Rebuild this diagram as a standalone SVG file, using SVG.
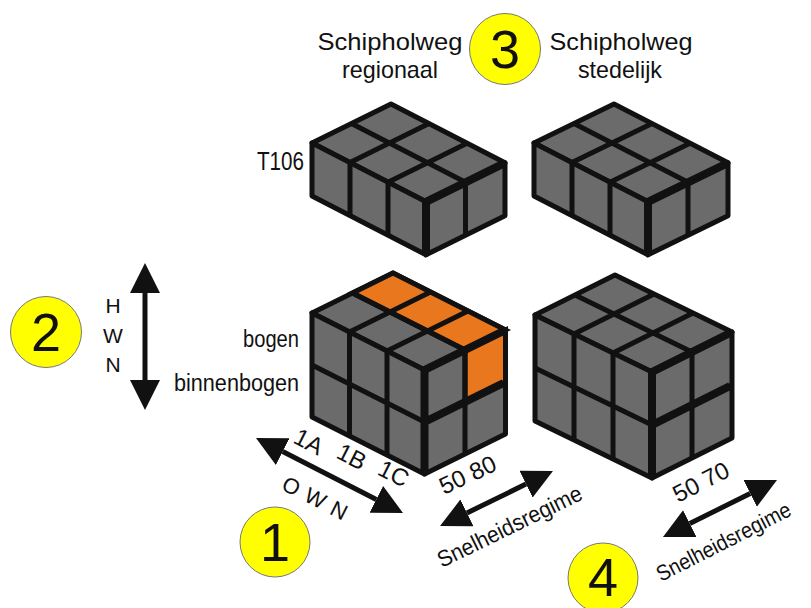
<svg xmlns="http://www.w3.org/2000/svg" width="811" height="608" viewBox="0 0 811 608">
<defs>
<style>
text{font-family:"Liberation Sans",Arial,Helvetica,sans-serif;fill:#111}
.f{fill:#6b6b6b;stroke:#111;stroke-width:5;stroke-linejoin:round;vector-effect:non-scaling-stroke}
.o{fill:#e8771e;stroke:#111;stroke-width:5;vector-effect:non-scaling-stroke}
.ln{fill:none;stroke:#111;stroke-width:5;vector-effect:non-scaling-stroke}
.tk{fill:none;stroke:#111;stroke-width:8;stroke-linecap:butt}
.badge circle{fill:#ffff00;stroke:#777;stroke-width:1}
.badge text{font-size:54px;text-anchor:middle}
.lbl{font-size:24px;text-anchor:middle}
.arr{stroke:#111;stroke-width:5;fill:none;marker-start:url(#ah);marker-end:url(#ah)}
</style>
<marker id="ah" viewBox="0 0 30 30" refX="0" refY="15" markerWidth="30" markerHeight="30" markerUnits="userSpaceOnUse" orient="auto-start-reverse">
<path d="M0,0 L30,15 L0,30 z" fill="#111"/>
</marker>
</defs>
<rect width="811" height="608" fill="#fff"/>

<!-- Top-left block -->
<g id="block-top-left">
<g transform="matrix(38 19.6 39.5 -19.5 312 143)"><rect class="f" width="3" height="2"/><path class="ln" d="M1 0V2M2 0V2M0 1H3"/></g>
<g transform="matrix(38 19.6 0 53 312 143)"><rect class="f" width="3" height="1"/><path class="ln" d="M1 0V1M2 0V1"/></g>
<g transform="matrix(39.5 -19.5 0 53 426 201.8)"><rect class="f" width="2" height="1"/><path class="ln" d="M1 0V1"/></g>
<path class="tk" d="M426 201.8V254.8M426 201.8L503 163.8"/>
</g>

<!-- Top-right block -->
<g id="block-top-right">
<g transform="matrix(38 19.6 40 -19.5 534 143)"><rect class="f" width="3" height="2"/><path class="ln" d="M1 0V2M2 0V2M0 1H3"/></g>
<g transform="matrix(38 19.6 0 53 534 143)"><rect class="f" width="3" height="1"/><path class="ln" d="M1 0V1M2 0V1"/></g>
<g transform="matrix(40 -19.5 0 53 648 201.8)"><rect class="f" width="2" height="1"/><path class="ln" d="M1 0V1"/></g>
<path class="tk" d="M648 201.8V254.8M648 201.8L726 163.8"/>
</g>

<!-- Bottom-left block -->
<g id="block-bottom-left">
<g transform="matrix(37.5 19 40.5 -20 312 313)"><rect class="f" width="3" height="2"/><rect class="o" x="0" y="1" width="3" height="1"/><path class="ln" d="M1 0V2M2 0V2M0 1H3"/></g>
<g transform="matrix(37.5 19 0 52 312 313)"><rect class="f" width="3" height="2"/><path class="ln" d="M1 0V2M2 0V2M0 1H3"/></g>
<g transform="matrix(40.5 -20 0 52 424.5 370)"><rect class="f" width="2" height="2"/><rect class="o" x="1" y="0" width="1" height="1"/><path class="ln" d="M1 0V2M0 1H2"/></g>
<path class="tk" d="M424.5 370V474M424.5 370L503.5 331M424.5 422L503.5 383"/>
</g>

<!-- Bottom-right block -->
<g id="block-bottom-right">
<g transform="matrix(39 19 40 -20 535 315)"><rect class="f" width="3" height="2"/><path class="ln" d="M1 0V2M2 0V2M0 1H3"/></g>
<g transform="matrix(39 19 0 53 535 315)"><rect class="f" width="3" height="2"/><path class="ln" d="M1 0V2M2 0V2M0 1H3"/></g>
<g transform="matrix(40 -20 0 53 652 372)"><rect class="f" width="2" height="2"/><path class="ln" d="M1 0V2M0 1H2"/></g>
<path class="tk" d="M652 372V478M652 372L730 333M652 425L730 386"/>
</g>

<!-- Connectors / arrows -->
<g id="arrows">
<line class="arr" x1="145" y1="293" x2="145" y2="380"/>
<line class="arr" x1="282.7" y1="451.6" x2="376.3" y2="499.4"/>
<line class="arr" x1="467" y1="512.9" x2="526" y2="484.1"/>
<line class="arr" x1="689.8" y1="523.6" x2="750.2" y2="493.4"/>
</g>

<!-- Badges -->
<g id="badge-1" class="badge"><circle cx="275" cy="542" r="35"/><text x="275" y="561">1</text></g>
<g id="badge-2" class="badge"><circle cx="46" cy="332" r="35.5"/><text x="46" y="351">2</text></g>
<g id="badge-3" class="badge"><circle cx="505" cy="49" r="35.5"/><text x="505" y="68">3</text></g>
<g id="badge-4" class="badge"><circle cx="603" cy="578" r="35"/><text x="603" y="596">4</text></g>

<!-- Labels -->
<g id="labels">
<text class="lbl" x="390" y="50" textLength="145" lengthAdjust="spacingAndGlyphs">Schipholweg</text>
<text class="lbl" x="390" y="78" textLength="96" lengthAdjust="spacingAndGlyphs">regionaal</text>
<text class="lbl" x="621" y="50" textLength="143" lengthAdjust="spacingAndGlyphs">Schipholweg</text>
<text class="lbl" x="620" y="78" textLength="84" lengthAdjust="spacingAndGlyphs">stedelijk</text>
<text x="304" y="170" font-size="26" text-anchor="end" textLength="47" lengthAdjust="spacingAndGlyphs">T106</text>
<text x="299" y="347" font-size="23.5" text-anchor="end" textLength="56" lengthAdjust="spacingAndGlyphs">bogen</text>
<text x="299" y="391" font-size="23.5" text-anchor="end" textLength="125" lengthAdjust="spacingAndGlyphs">binnenbogen</text>
<text x="113" y="313" font-size="21" text-anchor="middle">H</text>
<text x="113" y="343" font-size="21" text-anchor="middle">W</text>
<text x="113" y="372" font-size="21" text-anchor="middle">N</text>
<text x="305" y="449" font-size="24" text-anchor="middle" transform="rotate(27 305 449)">1A</text>
<text x="348" y="464" font-size="24" text-anchor="middle" transform="rotate(27 348 464)">1B</text>
<text x="390" y="481" font-size="24" text-anchor="middle" transform="rotate(27 390 481)">1C</text>
<text x="312" y="505" font-size="22" text-anchor="middle" letter-spacing="1" transform="rotate(27 312 505)">O W N</text>
<text x="444" y="495" font-size="24" transform="rotate(-25 444 495)">50 80</text>
<text x="442" y="568" font-size="23" textLength="158" lengthAdjust="spacingAndGlyphs" transform="rotate(-26 442 568)">Snelheidsregime</text>
<text x="678" y="503" font-size="24" transform="rotate(-27 678 503)">50 70</text>
<text x="661" y="582" font-size="22" textLength="148" lengthAdjust="spacingAndGlyphs" transform="rotate(-27 661 582)">Snelheidsregime</text>
</g>
</svg>
